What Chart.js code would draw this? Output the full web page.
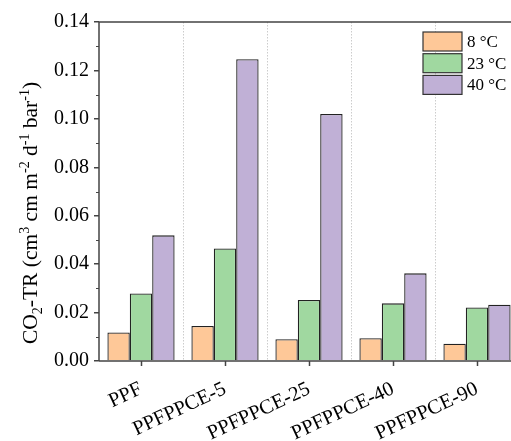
<!DOCTYPE html>
<html>
<head>
<meta charset="utf-8">
<script src="https://cdn.jsdelivr.net/npm/chart.js@4"></script>
<style>
  html, body { margin: 0; padding: 0; background: #fff; overflow: hidden; }
  #wrap { width: 525px; height: 441px; }
</style>
</head>
<body>
<div id="wrap"><canvas id="c"></canvas></div>
<script>
const samples = ["PPF", "PPFPPCE-5", "PPFPPCE-25", "PPFPPCE-40", "PPFPPCE-90"];
const temps = ["8 °C", "23 °C", "40 °C"];
const tr8 = [0.0118, 0.0145, 0.009, 0.0094, 0.0071];
const tr23 = [0.0279, 0.0465, 0.0252, 0.0238, 0.0221];
const tr40 = [0.0519, 0.1246, 0.102, 0.0362, 0.0232];
const yTicks = [0, 0.02, 0.04, 0.06, 0.08, 0.10, 0.12, 0.14];

const fills = ['#fec898', '#a0d8a0', '#c0b0d6'];
const serif = '"Liberation Serif", "DejaVu Serif", serif';
const axisCol = '#444';

// frame, minor ticks, x ticks, dotted separators, legend, y title
const extras = {
    id: 'extras',
    beforeDatasetsDraw(chart) {
        const c = chart.ctx, a = chart.chartArea, x = chart.scales.x;
        c.save();
        c.strokeStyle = '#cccccc';
        c.lineWidth = 1;
        c.setLineDash([1.5, 1.5]);
        for (let i = 0; i < samples.length - 1; i++) {
            const px = Math.round((x.getPixelForValue(i) + x.getPixelForValue(i + 1)) / 2) + 0.5;
            c.beginPath();
            c.moveTo(px, a.top);
            c.lineTo(px, a.bottom);
            c.stroke();
        }
        c.restore();
    },
    afterDraw(chart) {
        const c = chart.ctx, a = chart.chartArea, x = chart.scales.x, y = chart.scales.y;
        c.save();
        c.strokeStyle = axisCol;
        c.lineWidth = 1.5;
        c.beginPath();
        c.moveTo(a.left, a.top);
        c.lineTo(a.right, a.top);
        c.lineTo(a.right, a.bottom);
        c.moveTo(a.left, a.bottom);
        c.lineTo(a.right, a.bottom);
        c.moveTo(a.left, a.top);
        c.lineTo(a.left, a.bottom);
        c.stroke();

        // minor y ticks
        c.lineWidth = 1;
        for (let i = 0; i < yTicks.length - 1; i++) {
            const py = Math.round(y.getPixelForValue((yTicks[i] + yTicks[i + 1]) / 2)) + 0.5;
            c.beginPath();
            c.moveTo(a.left - 3, py);
            c.lineTo(a.left, py);
            c.stroke();
        }
        // x ticks at category centres
        c.lineWidth = 1.5;
        samples.forEach((s, i) => {
            const px = Math.round(x.getPixelForValue(i)) + 0.5;
            c.beginPath();
            c.moveTo(px, a.bottom);
            c.lineTo(px, a.bottom + 5);
            c.stroke();
        });

        // legend
        const lx = 423, ly = 32, bw = 39, bh = 19, gap = 21.7;
        c.font = '17px ' + serif;
        c.textBaseline = 'middle';
        temps.forEach((t, i) => {
            const top = ly + i * gap;
            c.fillStyle = fills[i];
            c.fillRect(lx, top, bw, bh);
            c.strokeStyle = '#333';
            c.lineWidth = 1.2;
            c.strokeRect(lx, top, bw, bh);
            c.fillStyle = '#000';
            c.fillText(t, lx + bw + 5, top + bh / 2 + 1);
        });

        // y axis title with sub/superscripts
        const parts = [
            ['CO', 0], ['2', 1], ['-TR (cm', 0], ['3', -1], [' cm m', 0], ['-2', -1],
            [' d', 0], ['-1', -1], [' bar', 0], ['-1', -1], [')', 0]
        ];
        const big = '21.5px ' + serif, small = '14px ' + serif;
        let total = 0;
        parts.forEach(p => { c.font = p[1] ? small : big; total += c.measureText(p[0]).width; });
        c.translate(30, 213);
        c.rotate(-Math.PI / 2);
        c.fillStyle = '#000';
        c.textBaseline = 'alphabetic';
        let cx = -total / 2;
        parts.forEach(p => {
            c.font = p[1] ? small : big;
            const dy = p[1] === 1 ? 5 : (p[1] === -1 ? -8 : 0);
            c.fillText(p[0], cx, 7 + dy);
            cx += c.measureText(p[0]).width;
        });
        c.restore();
    }
};

const mk = (label, data, i) => ({
    label: label,
    data: data,
    backgroundColor: fills[i],
    borderColor: '#222',
    borderWidth: 1.3,
    borderSkipped: 'bottom',
    categoryPercentage: 0.8,
    barPercentage: 1.0
});

new Chart(document.getElementById('c'), {
    type: 'bar',
    data: {
        labels: samples,
        datasets: [mk(temps[0], tr8, 0), mk(temps[1], tr23, 1), mk(temps[2], tr40, 2)]
    },
    options: {
        responsive: true,
        maintainAspectRatio: false,
        animation: false,
        layout: { padding: { top: 22, right: 6, left: 0, bottom: 0 } },
        plugins: { legend: { display: false }, tooltip: { enabled: false } },
        scales: {
            x: {
                grid: { display: false },
                border: { display: false },
                ticks: {
                    color: '#000',
                    font: { family: serif, size: 20.5 },
                    minRotation: 25,
                    maxRotation: 25,
                    padding: 8
                },
                afterFit: s => { s.height = 80; }
            },
            y: {
                min: 0,
                max: 0.14,
                afterBuildTicks: s => { s.ticks = yTicks.map(v => ({ value: v })); },
                grid: { drawOnChartArea: false, tickLength: 5, color: axisCol, lineWidth: 1.5 },
                border: { display: false },
                ticks: {
                    color: '#000',
                    font: { family: serif, size: 20 },
                    padding: 5,
                    callback: v => v.toFixed(2)
                },
                afterFit: s => { s.width = 99; }
            }
        }
    },
    plugins: [extras]
});
</script>
</body>
</html>
